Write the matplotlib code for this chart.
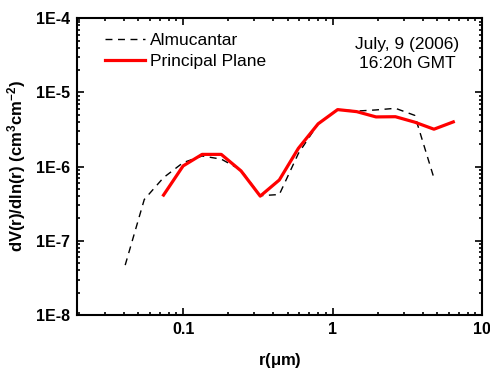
import numpy as np
import matplotlib
matplotlib.use("Agg")
import matplotlib.pyplot as plt
from matplotlib.ticker import FuncFormatter, LogLocator, NullFormatter

plt.rcParams['font.family'] = ['Liberation Sans', 'DejaVu Sans']
plt.rcParams['mathtext.fontset'] = 'custom'
plt.rcParams['mathtext.rm'] = 'Liberation Sans:bold'
plt.rcParams['mathtext.default'] = 'rm'

# radios (um) y distribuciones de volumen
r_pp = [0.074, 0.10, 0.134, 0.18, 0.244, 0.328, 0.44, 0.59,
        0.80, 1.08, 1.45, 1.95, 2.63, 3.54, 4.76, 6.41]
dv_pp = [4.13e-7, 1.02e-6, 1.46e-6, 1.46e-6, 8.75e-7, 4.0e-7, 6.6e-7, 1.76e-6,
         3.77e-6, 5.86e-6, 5.5e-6, 4.67e-6, 4.7e-6, 3.97e-6, 3.19e-6, 4.0e-6]

r_alm = [0.041, 0.055, 0.074, 0.10, 0.134, 0.18, 0.244, 0.328, 0.44,
         0.59, 0.80, 1.08, 1.45, 1.95, 2.63, 3.54, 4.76]
dv_alm = [4.7e-8, 3.6e-7, 7.1e-7, 1.13e-6, 1.39e-6, 1.26e-6, 9.0e-7, 4.05e-7,
          4.2e-7, 1.5e-6, 3.77e-6, 5.86e-6, 5.6e-6, 5.8e-6, 6.1e-6, 4.9e-6, 7.0e-7]

x_ticks = [0.1, 1, 10]
y_ticks = [1e-8, 1e-7, 1e-6, 1e-5, 1e-4]

fig = plt.figure(figsize=(4.9, 3.71), dpi=100)
ax = fig.add_axes([0.157, 0.151, 0.827, 0.80])

ax.plot(r_alm, dv_alm, color='black', lw=1.0, linestyle=(0, (5, 4)),
        label='Almucantar')
ax.plot(r_pp, dv_pp, color='#ff0000', lw=2.3, label='Principal Plane')

ax.set_xscale('log')
ax.set_yscale('log')
ax.set_xlim(0.0195, 10)
ax.set_ylim(1e-8, 1e-4)

ax.set_xticks(x_ticks)
ax.xaxis.set_major_formatter(FuncFormatter(lambda v, p: '%g' % v))
ax.xaxis.set_minor_locator(LogLocator(base=10, subs=np.arange(2, 10)))
ax.xaxis.set_minor_formatter(NullFormatter())
ax.set_yticks(y_ticks)
ax.yaxis.set_major_formatter(
    FuncFormatter(lambda v, p: '1E%d' % int(round(np.log10(v)))))
ax.yaxis.set_minor_locator(LogLocator(base=10, subs=np.arange(2, 10)))
ax.yaxis.set_minor_formatter(NullFormatter())

ax.tick_params(which='both', direction='in', top=True, right=True, width=1.2)
ax.tick_params(which='major', length=5, labelsize=11.5, pad=5)
ax.tick_params(which='minor', length=2.5)
for lbl in ax.get_xticklabels() + ax.get_yticklabels():
    lbl.set_fontweight('bold')
for s in ax.spines.values():
    s.set_linewidth(1.5)

ax.set_xlabel(r'r($\mu$m)', fontsize=12, fontweight='bold', labelpad=10)
ax.set_ylabel(r'dV(r)/dln(r) (cm$^3$cm$^{-2}$)', fontsize=12,
              fontweight='bold', labelpad=6)

ax.legend(loc='upper left', bbox_to_anchor=(0.069, 0.95), frameon=False,
          fontsize=12.5, handlelength=2.3, handletextpad=0.3,
          labelspacing=0.35, borderpad=0, borderaxespad=0)

ax.text(0.815, 0.879, 'July, 9 (2006)\n16:20h GMT', transform=ax.transAxes,
        ha='center', va='center', fontsize=12.5, linespacing=1.35)

fig.savefig('out.png', dpi=100)
